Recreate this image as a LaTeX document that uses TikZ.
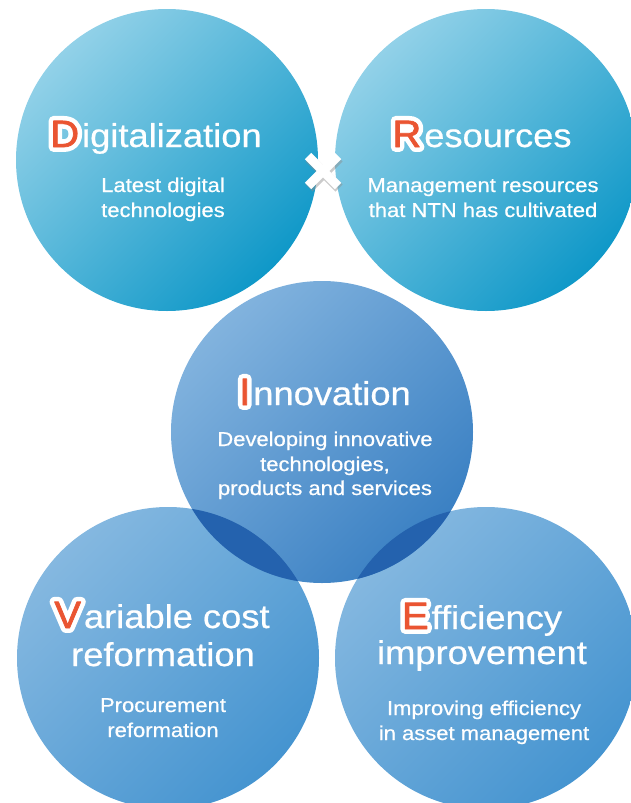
\documentclass[tikz,border=0pt]{standalone}
\usepackage{fontspec}
\setmainfont[FakeStretch=1.1,FakeBold=0.6]{Liberation Sans}
\newfontfamily\initwhite[FakeStretch=1.05,FakeBold=26]{Liberation Sans}
\newfontfamily\initred[FakeStretch=1.05,FakeBold=2]{Liberation Sans}
\definecolor{ired}{HTML}{EA5532}
\definecolor{cyanL}{HTML}{92D1E8}
\definecolor{cyanD}{HTML}{0F98C8}
\definecolor{midL}{HTML}{82B3DE}
\definecolor{midD}{HTML}{3A80C3}
\definecolor{botL}{HTML}{85B8E0}
\definecolor{botD}{HTML}{4594D0}
\definecolor{lensC}{HTML}{2462AE}
\newcommand\ini[1]{{\fontsize{38}{38}\selectfont\special{pdf:code 1 j 1 J}\rlap{\initwhite\color{white}#1}{\initred\color{ired}#1}}\kern3pt}
\tikzset{
  bigc/.style={circle, minimum size=302pt, inner sep=0pt, draw=none},
  cyanc/.style={bigc, top color=cyanL, bottom color=cyanD, shading angle=45},
  midc/.style={bigc, top color=midL, bottom color=midD, shading angle=45},
  botc/.style={bigc, top color=botL, bottom color=botD, shading angle=45},
  ttl/.style={text=white, anchor=base, inner sep=0pt, font=\fontsize{33}{38}\selectfont},
  sub/.style={text=white, anchor=base, inner sep=0pt, font=\fontsize{20}{25}\selectfont},
}
\begin{document}
\begin{tikzpicture}[x=1pt,y=-1pt]
\useasboundingbox (0,0) rectangle (631,803);
% circles
\node[cyanc] (dig) at (167,160) {};
\node[cyanc] (res) at (486,160) {};
\node[botc] (var) at (168,658) {};
\node[botc] (eff) at (486,658) {};
\node[midc] (inn) at (322,432) {};
\begin{scope}
  \clip (inn.center) circle[radius=151pt];
  \fill[lensC] (var.center) circle[radius=151pt];
  \fill[lensC] (eff.center) circle[radius=151pt];
\end{scope}
% cross sign
\coordinate (cross) at (323,171);
\begin{scope}[shift={(cross)}]
  \draw[line width=10pt, black!45, opacity=.45] (-14,-13) -- (16,17) (16,-13) -- (-14,17);
  \draw[line width=9pt, white] (-15,-15) -- (15,15) (15,-15) -- (-15,15);
\end{scope}
% titles
\node[ttl] (tdig) at (156,147) {\ini{D}igitalization};
\node[ttl] (tres) at (482,147) {\ini{R}esources};
\node[ttl] (tinn) at (325,405) {\ini{I}nnovation};
\node[ttl] (tvar1) at (162,628) {\ini{V}ariable cost};
\node[ttl] (tvar2) at (163,666) {reformation};
\node[ttl] (teff1) at (482,629) {\ini{E}fficiency};
\node[ttl] (teff2) at (482,664) {improvement};
% subtitles
\node[sub] (sdig1) at (163,192) {Latest digital};
\node[sub] (sdig2) at (163,217) {technologies};
\node[sub] (sres1) at (483,192) {Management resources};
\node[sub] (sres2) at (483,217) {that NTN has cultivated};
\node[sub] (sinn1) at (325,446) {Developing innovative};
\node[sub] (sinn2) at (325,471) {technologies,};
\node[sub] (sinn3) at (325,495) {products and services};
\node[sub] (svar1) at (163,712) {Procurement};
\node[sub] (svar2) at (163,737) {reformation};
\node[sub] (seff1) at (484,715) {Improving efficiency};
\node[sub] (seff2) at (484,740) {in asset management};
\end{tikzpicture}
\end{document}
